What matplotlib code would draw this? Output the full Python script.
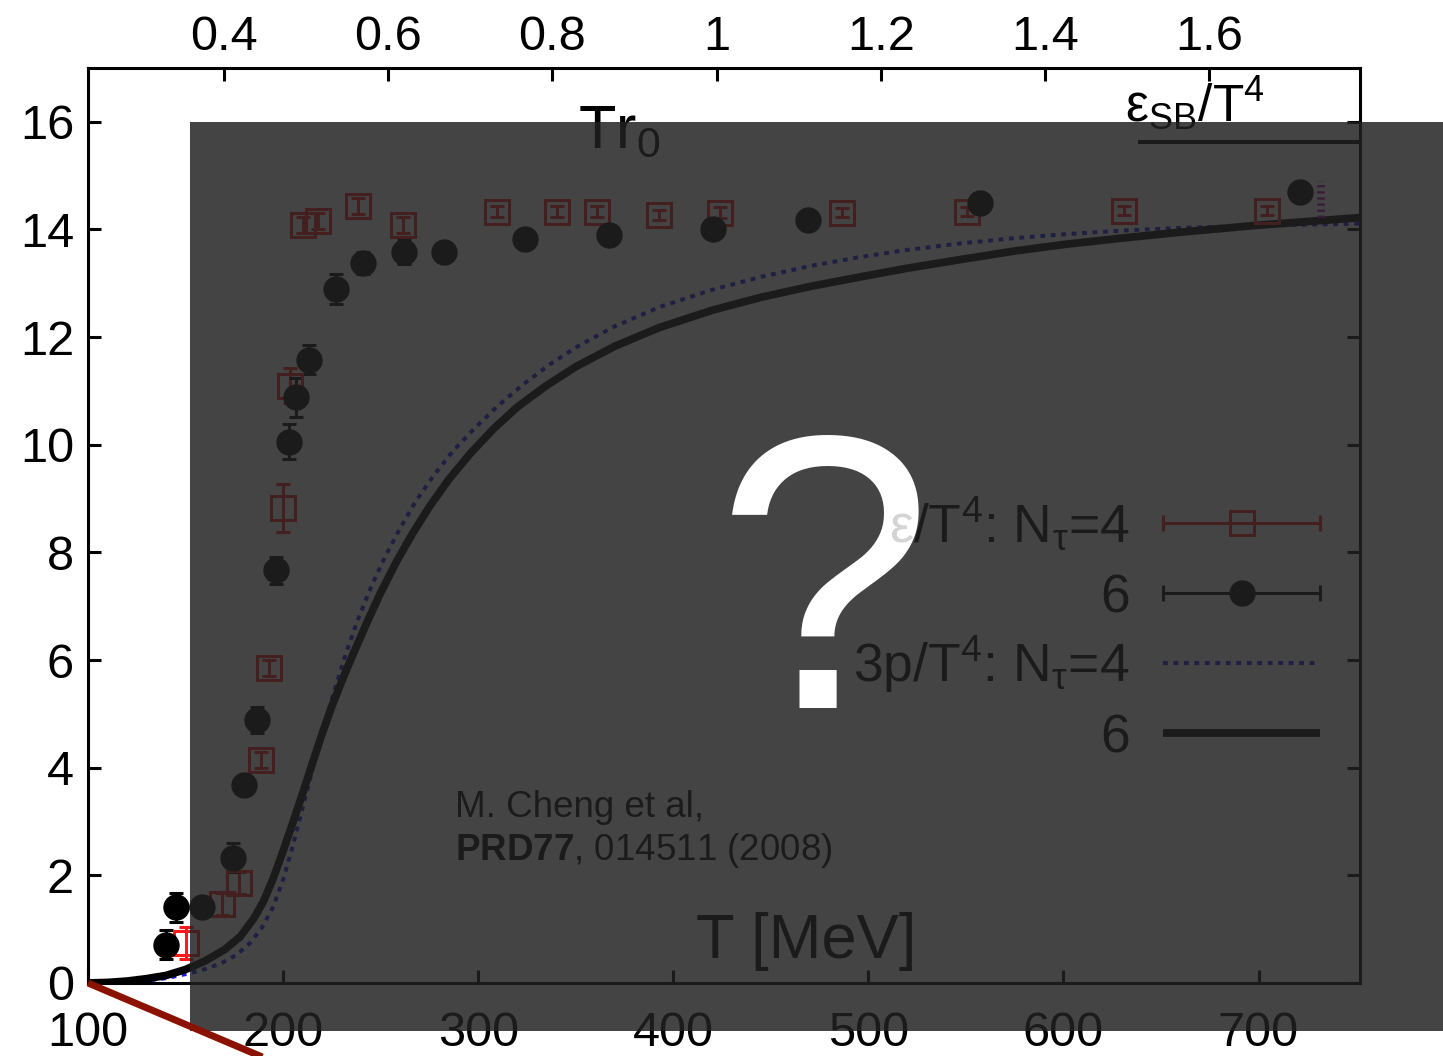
import numpy as np
import matplotlib.pyplot as plt
from matplotlib.patches import Rectangle
from matplotlib.lines import Line2D

plt.rcParams['font.family'] = ['Liberation Sans', 'DejaVu Sans']
plt.rcParams['mathtext.fontset'] = 'custom'
plt.rcParams['mathtext.rm'] = 'Liberation Sans'
plt.rcParams['mathtext.it'] = 'Liberation Sans:italic'
plt.rcParams['mathtext.bf'] = 'Liberation Sans:bold'

# energy density eps/T^4, N_tau = 4  (T in MeV)
T_e4 = [150.3, 168.7, 177.4, 188.7, 192.8, 200.0, 203.6, 210.3, 218.0, 238.5,
        261.5, 309.7, 340.5, 361.0, 392.8, 424.1, 486.7, 550.8, 630.8, 704.1]
e4 = [0.74, 1.47, 1.86, 4.14, 5.85, 8.83, 11.10, 14.09, 14.16, 14.44,
      14.09, 14.33, 14.33, 14.33, 14.27, 14.31, 14.31, 14.33, 14.35, 14.35]
de4 = [0.30, 0.20, 0.20, 0.15, 0.15, 0.45, 0.33, 0.15, 0.15, 0.15,
       0.15, 0.10, 0.10, 0.10, 0.10, 0.10, 0.08, 0.08, 0.08, 0.08]

# energy density eps/T^4, N_tau = 6
T_e6 = [140.0, 145.1, 158.5, 174.2, 180.0, 186.5, 196.4, 203.1, 206.7, 213.3,
        227.2, 241.0, 262.0, 282.6, 324.0, 367.2, 420.5, 469.2, 557.2, 721.2]
e6 = [0.71, 1.41, 1.41, 2.33, 3.68, 4.88, 7.67, 10.06, 10.88, 11.58,
      12.90, 13.38, 13.59, 13.59, 13.83, 13.90, 14.00, 14.18, 14.49, 14.70]
de6 = [0.27, 0.27, 0.10, 0.27, 0.10, 0.24, 0.25, 0.33, 0.36, 0.27,
       0.28, 0.20, 0.24, 0.10, 0.10, 0.10, 0.10, 0.10, 0.10, 0.10]

# pressure 3p/T^4, N_tau = 4
T_p4 = [100, 115, 127, 140, 152, 160, 168, 176, 183, 189, 195, 200, 205, 210,
        215, 220, 226, 232, 238, 245, 252, 260, 268, 277, 287, 298, 310, 323,
        337, 352, 370, 393, 420, 445, 470, 496, 520, 547, 575, 600, 630, 660,
        700, 752]
p4 = [0.0, 0.01, 0.03, 0.09, 0.18, 0.26, 0.36, 0.52, 0.74, 1.02, 1.42, 1.92,
      2.55, 3.25, 3.96, 4.65, 5.40, 6.10, 6.72, 7.35, 7.90, 8.45, 8.95, 9.42,
      9.88, 10.30, 10.72, 11.12, 11.50, 11.85, 12.20, 12.56, 12.88, 13.12,
      13.32, 13.49, 13.62, 13.74, 13.84, 13.91, 13.98, 14.03, 14.07, 14.11]

# pressure 3p/T^4, N_tau = 6
T_p6 = [100, 110, 120, 130, 140, 150, 160, 170, 178, 185, 190, 195, 200, 205,
        210, 215, 220, 225, 230, 236, 243, 250, 258, 266, 275, 285, 296, 308,
        320, 335, 350, 370, 393, 420, 445, 470, 496, 520, 547, 575, 600, 630,
        660, 700, 752]
p6 = [0.0, 0.01, 0.035, 0.08, 0.14, 0.25, 0.41, 0.62, 0.86, 1.20, 1.52, 1.95,
      2.45, 2.98, 3.52, 4.08, 4.63, 5.14, 5.60, 6.12, 6.70, 7.25, 7.82, 8.33,
      8.85, 9.36, 9.84, 10.30, 10.70, 11.10, 11.45, 11.83, 12.18, 12.50, 12.74,
      12.94, 13.12, 13.28, 13.44, 13.60, 13.72, 13.84, 13.95, 14.08, 14.22]

# Stefan-Boltzmann limit
eps_sb = 15.63
T_sb = [639, 752]
# continuum estimate bar at high T
T_cont = 732
cont_range = [14.22, 14.90]

x_ticks = [100, 200, 300, 400, 500, 600, 700]
y_ticks = [0, 2, 4, 6, 8, 10, 12, 14, 16]
top_ticks = [0.4, 0.6, 0.8, 1.0, 1.2, 1.4, 1.6]
top_labels = ['0.4', '0.6', '0.8', '1', '1.2', '1.4', '1.6']

W, H = 1443, 1056
fig = plt.figure(figsize=(W / 100, H / 100), dpi=100)
ax = fig.add_axes([88 / W, (H - 983) / H, 1272 / W, 915 / H])

red = '#ff1a1a'
blue = '#1a1aff'
dotted = (0, (1.2, 1.4))

ax.plot(T_p4, p4, color=blue, lw=2.9, linestyle=dotted, dash_capstyle='butt')
ax.plot(T_p6, p6, color='black', lw=5.6)
ax.errorbar(T_e4, e4, yerr=de4, fmt='s', mfc='none', mec=red, ecolor=red,
            ms=17, mew=2.2, elinewidth=2.2, capsize=5, capthick=2.2)
ax.errorbar(T_e6, e6, yerr=de6, fmt='o', color='black',
            ms=18, elinewidth=2.2, capsize=5, capthick=2.2)
ax.vlines(T_cont, cont_range[0], cont_range[1], colors='#b000b0', lw=5.5,
          linestyles=(0, (0.3, 0.5)))
ax.plot(T_sb, [eps_sb, eps_sb], color='black', lw=2.9)

ax.set_xlim(100, 752)
ax.set_ylim(0, 17)
ax.set_xticks(x_ticks)
ax.set_yticks(y_ticks)
ax.tick_params(direction='in', length=9.5, width=2.2, labelsize=35,
               right=True, top=False)
ax.tick_params(axis='x', pad=20)
ax.tick_params(axis='y', pad=10)
for s in ax.spines.values():
    s.set_linewidth(2.2)

ax2 = ax.twiny()
ax2.set_xlim(0.234, 1.784)
ax2.set_xticks(top_ticks)
ax2.set_xticklabels(top_labels)
ax2.tick_params(direction='in', length=9.5, width=2.2, labelsize=35, pad=6)

# axis titles and annotations inside the frame
ax.text(351, 15.53, 'Tr$_0$', fontsize=44)
ax.text(411.6, 0.46, 'T [MeV]', fontsize=45.5)
ax.text(288, 3.08, 'M. Cheng et al,', fontsize=26.5)
ax.text(288, 2.29, r'$\mathbf{PRD77}$, 014511 (2008)', fontsize=26.5)
ax.text(631.5, 16.0, r'ε$_{\mathrm{SB}}$/T$^4$', fontsize=37)

# legend, labels right-aligned with handles on the right
lab_x = 634
hx0, hx1, hxm = 651, 731.5, 691.5
rows = [(8.55, 8.19, r'/T$^4$: N$_{\mathrm{τ}}$=4'), (7.25, 6.89, '6'),
        (5.95, 5.59, r'3p/T$^4$: N$_{\mathrm{τ}}$=4'), (4.65, 4.29, '6')]
labels = [ax.text(lab_x, yb, lab, fontsize=38.5, ha='right', va='baseline')
          for yh, yb, lab in rows]
ax.plot([hx0, hx1], [rows[0][0]] * 2, color=red, lw=2.2)
ax.plot([hx0, hx1], [rows[0][0]] * 2, ls='none', marker='|', ms=11, mew=2.2, color=red)
ax.plot([hxm], [rows[0][0]], 's', mfc='none', mec=red, ms=17, mew=2.2)
ax.plot([hx0, hx1], [rows[1][0]] * 2, color='black', lw=2.2)
ax.plot([hx0, hx1], [rows[1][0]] * 2, ls='none', marker='|', ms=11, mew=2.2, color='black')
ax.plot([hxm], [rows[1][0]], 'o', color='black', ms=18)
ax.plot([hx0, hx1], [rows[2][0]] * 2, color=blue, lw=2.9,
        linestyle=dotted, dash_capstyle='butt')
ax.plot([hx0, hx1], [rows[3][0]] * 2, color='black', lw=5.6,
        solid_capstyle='butt')

# dark veil over most of the figure
veil = Rectangle((190 / W, (H - 1031) / H), 1 - 190 / W, (1031 - 122) / H,
                 transform=fig.transFigure, facecolor='#212121', alpha=0.843,
                 edgecolor='none', zorder=5)
fig.add_artist(veil)

fig.text(825 / W, 1 - 708 / H, '?', fontsize=281, color='white',
         ha='center', va='baseline', zorder=8)

# the leading epsilon of the first legend label sits on top of the "?"
fig.canvas.draw()
bb = labels[0].get_window_extent()
fig.text(bb.x0 / W, labels[0].get_transform().transform((lab_x, rows[0][1]))[1] / H,
         'ε', fontsize=38.5, color='#d4d4d4', ha='right', va='baseline', zorder=9)

fig.add_artist(Line2D([88 / W, 300 / W], [(H - 983) / H, (H - 1073) / H],
                      transform=fig.transFigure, color='#8b1200', lw=5,
                      solid_capstyle='butt', zorder=8))

fig.savefig('out.png', dpi=100)
